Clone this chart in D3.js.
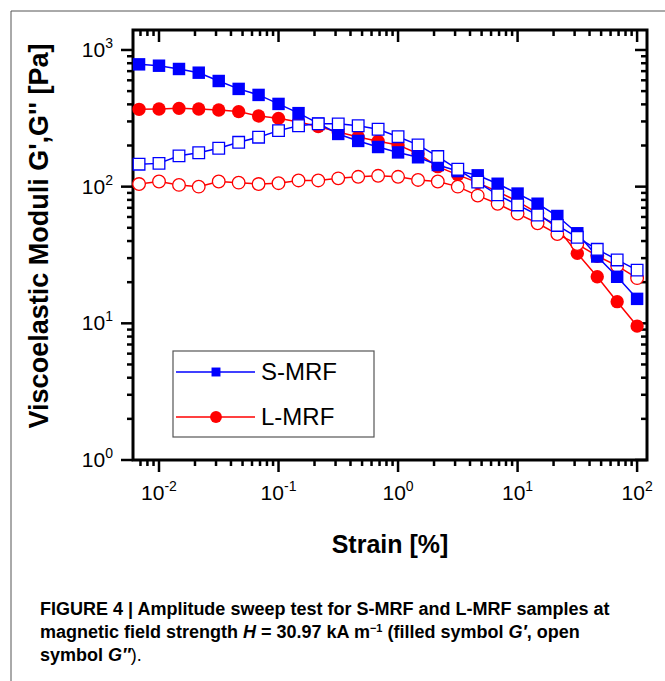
<!DOCTYPE html>
<html>
<head>
<meta charset="utf-8">
<script src="https://cdn.jsdelivr.net/npm/d3@7"></script>
<style>
  body { margin: 0; background: #fff; }
  svg { display: block; font-family: "Liberation Sans Narrow", "Liberation Sans", Arial, sans-serif; }
</style>
</head>
<body>
<div id="chart"></div>
<script>
// --- DATA ---
const strain = [0.00681, 0.01, 0.0147, 0.0215, 0.0316, 0.0464, 0.0681, 0.1, 0.147, 0.215,
                0.316, 0.464, 0.681, 1, 1.47, 2.15, 3.16, 4.64, 6.81, 10,
                14.7, 21.5, 31.6, 46.4, 68.1, 100];

// S-MRF
const smrfG1 = [785, 767, 726, 682, 593, 519, 469, 403, 345, 290,
                243, 216, 195, 178, 164, 144, 130, 121, 105, 89,
                75, 61, 45.6, 30.8, 21.9, 15.1];
const smrfG2 = [146, 148, 168, 177, 191, 211, 230, 257, 279, 288,
                288, 279, 263, 232, 202, 166, 134, 108, 87, 73.5,
                62, 52, 42.6, 34.8, 29.1, 24.5];
// L-MRF
const lmrfG1 = [368, 370, 374, 370, 364, 354, 329, 316, 297, 275,
                251, 231, 215, 202, 174, 140, 122, 107, 92, 78,
                64, 50, 32.5, 21.9, 14.4, 9.55];
const lmrfG2 = [104.5, 109, 103, 100, 109, 107, 104.5, 106, 111, 111,
                115, 118, 120, 118, 112, 109, 100, 86, 75, 63.5,
                54, 45, 38, 31.1, 26.3, 21.4];

const xTicks = [0.01, 0.1, 1, 10, 100];
const xExps = ["-2", "-1", "0", "1", "2"];
const yTicks = [1, 10, 100, 1000];
const yExps = ["0", "1", "2", "3"];

const legendNames = ["S-MRF", "L-MRF"];
const blue = "#0000ff", red = "#ff0000";

// --- LAYOUT ---
const W = 665, H = 681;
const plot = {left: 133, right: 647, top: 30, bottom: 460};

const svg = d3.select("#chart").append("svg")
    .attr("width", W).attr("height", H);

// figure frame (top + left edge)
svg.append("path")
    .attr("d", `M11,${H} L11,11 L${W},11`)
    .attr("fill", "none").attr("stroke", "#555").attr("stroke-width", 1);

const x = d3.scaleLog().domain([0.00606, 121]).range([plot.left, plot.right]);
const y = d3.scaleLog().domain([1, 1400]).range([plot.bottom, plot.top]);

// minor tick values
function minors(lo, hi) {
    const out = [];
    for (let e = Math.floor(Math.log10(lo)); e <= Math.ceil(Math.log10(hi)); e++) {
        for (let m = 1; m <= 9; m++) {
            const v = m * Math.pow(10, e);
            if (v >= lo && v <= hi) out.push({v, major: m === 1});
        }
    }
    return out;
}
const xt = minors(x.domain()[0], x.domain()[1]);
const yt = minors(y.domain()[0], y.domain()[1]);

const ticks = svg.append("g").attr("stroke", "#000").attr("stroke-width", 2.5);
// bottom (outward) and top (inward)
xt.forEach(t => {
    const px = x(t.v), L = t.major ? 12 : 6;
    ticks.append("line").attr("x1", px).attr("x2", px).attr("y1", plot.bottom).attr("y2", plot.bottom + L);
    ticks.append("line").attr("x1", px).attr("x2", px).attr("y1", plot.top).attr("y2", plot.top + L);
});
// left (outward) and right (inward)
yt.forEach(t => {
    const py = y(t.v), L = t.major ? 12 : 6;
    ticks.append("line").attr("x1", plot.left).attr("x2", plot.left - L).attr("y1", py).attr("y2", py);
    ticks.append("line").attr("x1", plot.right).attr("x2", plot.right - L).attr("y1", py).attr("y2", py);
});

// plot frame
svg.append("rect")
    .attr("x", plot.left).attr("y", plot.top)
    .attr("width", plot.right - plot.left).attr("height", plot.bottom - plot.top)
    .attr("fill", "none").attr("stroke", "#000").attr("stroke-width", 3);

// tick labels
xTicks.forEach((v, i) => {
    const t = svg.append("text")
        .attr("x", x(v)).attr("y", 500)
        .attr("text-anchor", "middle")
        .attr("font-size", 21);
    t.append("tspan").text("10");
    t.append("tspan").attr("dy", -9).attr("font-size", 14).text(xExps[i]);
});
yTicks.forEach((v, i) => {
    const t = svg.append("text")
        .attr("x", 113).attr("y", y(v) + 7)
        .attr("text-anchor", "end")
        .attr("font-size", 21);
    t.append("tspan").text("10");
    t.append("tspan").attr("dy", -9).attr("font-size", 14).text(yExps[i]);
});

// axis titles
svg.append("text")
    .attr("x", 390).attr("y", 553)
    .attr("text-anchor", "middle")
    .attr("font-size", 25).attr("font-weight", "bold")
    .text("Strain [%]");
svg.append("text")
    .attr("transform", "translate(48,236) rotate(-90)")
    .attr("text-anchor", "middle")
    .attr("font-size", 27).attr("font-weight", "bold")
    .text("Viscoelastic Moduli G',G'' [Pa]");

// --- SERIES ---
const series = [
    {vals: lmrfG1, color: red, shape: d3.symbolCircle, size: 140, filled: true},
    {vals: lmrfG2, color: red, shape: d3.symbolCircle, size: 125, filled: false},
    {vals: smrfG1, color: blue, shape: d3.symbolSquare, size: 155, filled: true},
    {vals: smrfG2, color: blue, shape: d3.symbolSquare, size: 135, filled: false}
];
const line = d3.line().x(d => x(d[0])).y(d => y(d[1]));

series.forEach(s => {
    const pts = strain.map((v, i) => [v, s.vals[i]]);
    const g = svg.append("g");
    g.append("path")
        .attr("d", line(pts))
        .attr("fill", "none").attr("stroke", s.color).attr("stroke-width", 1.5);
    g.selectAll("path.pt")
        .data(pts)
        .join("path")
        .attr("class", "pt")
        .attr("transform", d => `translate(${x(d[0])},${y(d[1])})`)
        .attr("d", d3.symbol().type(s.shape).size(s.size)())
        .attr("fill", s.filled ? s.color : "#fff")
        .attr("stroke", s.color)
        .attr("stroke-width", s.filled ? 0 : 1.3);
});

// --- LEGEND ---
const lg = svg.append("g");
lg.append("rect")
    .attr("x", 173).attr("y", 351).attr("width", 201).attr("height", 86)
    .attr("fill", "#fff").attr("stroke", "#555").attr("stroke-width", 1.2);
const legendColors = [blue, red];
const legendShapes = [d3.symbolSquare, d3.symbolCircle];
legendNames.forEach((name, i) => {
    const ly = 372 + i * 45;
    lg.append("line").attr("x1", 176).attr("x2", 255).attr("y1", ly).attr("y2", ly)
        .attr("stroke", legendColors[i]).attr("stroke-width", 1.5);
    lg.append("path")
        .attr("transform", `translate(216,${ly})`)
        .attr("d", d3.symbol().type(legendShapes[i]).size(i === 0 ? 80 : 110)())
        .attr("fill", legendColors[i]);
    lg.append("text")
        .attr("x", 261).attr("y", ly + 8)
        .attr("font-size", 24)
        .attr("font-family", "'Liberation Sans', Arial, sans-serif")
        .text(name);
});

// --- CAPTION ---
const cap = svg.append("text")
    .attr("font-size", 18).attr("font-weight", "bold");
cap.append("tspan").attr("x", 40).attr("y", 615)
    .text("FIGURE 4 | Amplitude sweep test for S-MRF and L-MRF samples at");
const l2 = cap.append("tspan").attr("x", 40).attr("y", 638);
l2.append("tspan").text("magnetic field strength ");
l2.append("tspan").attr("font-style", "italic").text("H");
l2.append("tspan").text(" = 30.97 kA m");
l2.append("tspan").attr("dy", -6).attr("font-size", 11).text("\u22121");
l2.append("tspan").attr("dy", 6).text(" (filled symbol ");
l2.append("tspan").attr("font-style", "italic").text("G\u2032");
l2.append("tspan").text(", open");
const l3 = cap.append("tspan").attr("x", 40).attr("y", 661);
l3.append("tspan").text("symbol ");
l3.append("tspan").attr("font-style", "italic").text("G\u2033");
l3.append("tspan").attr("font-weight", "normal").text(").");
</script>
</body>
</html>
